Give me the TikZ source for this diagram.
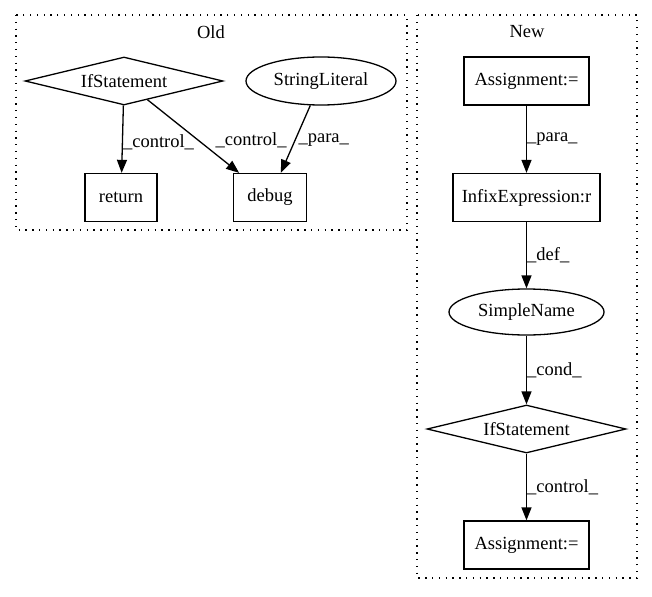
\documentclass[tikz,border=0pt]{standalone}
\usepackage{fontspec}
\setmainfont{Liberation Serif}
\usetikzlibrary{arrows.meta}
\usetikzlibrary{shapes.geometric}
\tikzset{
  gnode/.style={draw, line width=1.3pt, font=\fontsize{18.5pt}{22pt}\selectfont, inner sep=0pt, minimum height=48pt},
  boxnode/.style={gnode, rectangle},
  ovalnode/.style={gnode, ellipse, minimum width=150pt},
  ifnode/.style={gnode, diamond, aspect=4.1, minimum width=198pt},
  flow/.style={-{Triangle[length=13pt,width=10pt]}, line width=1.3pt},
  lbl/.style={font=\fontsize{18.5pt}{22pt}\selectfont, anchor=west, inner sep=0pt},
  cluster/.style={dash pattern=on 1.3pt off 5.5pt, line width=1.3pt}
}

\begin{document}
\begin{tikzpicture}[x=1pt,y=-1pt]
  \useasboundingbox (0,0) rectangle (652,596);

  % ---------- Old ----------
  \draw[cluster] (16,15) rectangle (407,230);
  \node[lbl, anchor=center] at (211,32) (oldtitle) {Old};

  \node[ifnode] at (124,81) (if1) {IfStatement};
  \node[ovalnode] at (321,81) (str1) {StringLiteral};
  \node[boxnode, minimum width=72pt] at (121,197.5) (ret1) {return};
  \node[boxnode, minimum width=73pt] at (270,197.5) (dbg1) {debug};

  \draw[flow] (if1) -- node[lbl, pos=0.55] {\_control\_} (ret1);
  \draw[flow] (if1) -- node[lbl, pos=0.55, xshift=17pt] {\_control\_} (dbg1);
  \draw[flow] (str1) -- node[lbl, pos=0.52, xshift=3pt] {\_para\_} (dbg1);

  % ---------- New ----------
  \draw[cluster] (417,15) rectangle (637,578);
  \node[lbl, anchor=center] at (527,32) (newtitle) {New};

  \node[boxnode, minimum width=125pt] at (526.5,81) (asg1) {Assignment:=};
  \node[boxnode, minimum width=147pt] at (526.5,197.5) (infix) {InfixExpression:r};
  \node[ovalnode, minimum width=155pt, minimum height=46pt] at (526.5,312) (sname) {SimpleName};
  \node[ifnode, minimum width=199pt] at (526.5,429) (if2) {IfStatement};
  \node[boxnode, minimum width=125pt] at (526.5,545) (asg2) {Assignment:=};

  \draw[flow] (asg1) -- node[lbl] {\_para\_} (infix);
  \draw[flow] (infix) -- node[lbl] {\_def\_} (sname);
  \draw[flow] (sname) -- node[lbl] {\_cond\_} (if2);
  \draw[flow] (if2) -- node[lbl] {\_control\_} (asg2);
\end{tikzpicture}
\end{document}
